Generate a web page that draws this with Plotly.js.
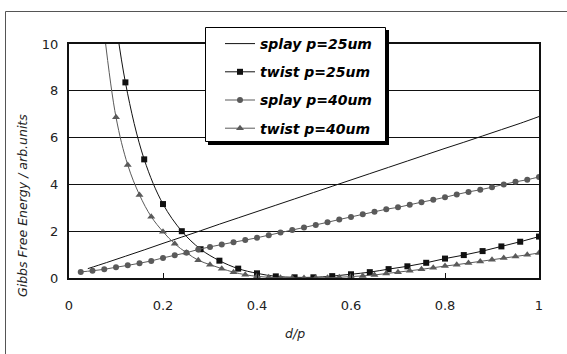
<!DOCTYPE html>
<html><head><meta charset="utf-8">
<script src="https://cdn.plot.ly/plotly-3.0.1.min.js"></script>
<style>html,body{margin:0;padding:0;background:#fff;}#chart{width:567px;height:354px;}</style>
</head><body><div id="chart"></div>
<script>
// ---- data ----
const seriesNames = ['splay p=25um', 'twist p=25um', 'splay p=40um', 'twist p=40um'];

const xSplay25 = [0.04,0.08,0.12,0.16,0.20,0.24,0.28,0.32,0.36,0.40,0.44,0.48,0.52,0.56,0.60,0.64,0.68,0.72,0.76,0.80,0.84,0.88,0.92,0.96,1.00];
const ySplay25 = [0.40,0.66,0.93,1.20,1.48,1.75,2.02,2.30,2.57,2.84,3.11,3.38,3.65,3.92,4.19,4.46,4.73,5.00,5.27,5.54,5.80,6.07,6.34,6.61,6.90];

const xTwist25 = [0.08,0.12,0.16,0.20,0.24,0.28,0.32,0.36,0.40,0.44,0.48,0.52,0.56,0.60,0.64,0.68,0.72,0.76,0.80,0.84,0.88,0.92,0.96,1.00];
const yTwist25 = [14.0,8.36,5.07,3.16,2.00,1.23,0.74,0.40,0.20,0.07,0.03,0.03,0.08,0.16,0.25,0.38,0.50,0.65,0.83,0.98,1.15,1.35,1.55,1.77];

const xSplay40 = [0.025,0.05,0.075,0.1,0.125,0.15,0.175,0.2,0.225,0.25,0.275,0.3,0.325,0.35,0.375,0.4,0.425,0.45,0.475,0.5,0.525,0.55,0.575,0.6,0.625,0.65,0.675,0.7,0.725,0.75,0.775,0.8,0.825,0.85,0.875,0.9,0.925,0.95,0.975,1.0];
const ySplay40 = [0.26,0.31,0.37,0.46,0.54,0.63,0.73,0.86,0.97,1.08,1.22,1.33,1.43,1.53,1.62,1.72,1.83,1.94,2.05,2.16,2.27,2.38,2.50,2.61,2.72,2.83,2.94,3.02,3.13,3.24,3.34,3.45,3.57,3.68,3.77,3.88,4.00,4.11,4.20,4.32];

const xTwist40 = [0.075,0.1,0.125,0.15,0.175,0.2,0.225,0.25,0.275,0.3,0.325,0.35,0.375,0.4,0.425,0.45,0.475,0.5,0.525,0.55,0.575,0.6,0.625,0.65,0.675,0.7,0.725,0.75,0.775,0.8,0.825,0.85,0.875,0.9,0.925,0.95,0.975,1.0];
const yTwist40 = [10.5,6.87,4.83,3.55,2.62,1.98,1.46,1.08,0.76,0.57,0.40,0.25,0.14,0.07,0.03,0.01,0.0,0.0,0.0,0.01,0.03,0.06,0.09,0.13,0.19,0.25,0.31,0.37,0.44,0.51,0.57,0.64,0.71,0.78,0.85,0.92,0.99,1.07];

const xTickVals = [0,0.2,0.4,0.6,0.8,1];
const yTickVals = [0,2,4,6,8,10];
const xTitle = 'd/p';
const yTitle = 'Gibbs Free Energy / arb.units';

// ---- layout geometry ----
const W = 567, H = 354, ML = 69, MR = 28, MT = 44, MB = 76;
const PW = W - ML - MR, PH = H - MT - MB;
const px = v => (v - ML) / PW;
const py = v => (H - MB - v) / PH;

const BLACK = '#111111', GREY = '#5a5a5a';

const traces = [
  {x: xSplay25, y: ySplay25, name: seriesNames[0], legendgroup: 'a', mode: 'lines',
   line: {color: BLACK, width: 1, shape: 'spline'}},
  {x: xTwist25, y: yTwist25, name: seriesNames[1], legendgroup: 'b', mode: 'lines+markers',
   line: {color: BLACK, width: 1, shape: 'spline'}, marker: {symbol: 'square', size: 6, color: BLACK}},
  {x: xSplay40, y: ySplay40, name: seriesNames[2], legendgroup: 'c', mode: 'lines+markers',
   line: {color: GREY, width: 1, shape: 'spline'}, marker: {symbol: 'circle', size: 6, color: GREY}},
  {x: xTwist40, y: yTwist40, name: seriesNames[3], legendgroup: 'd', mode: 'lines+markers',
   line: {color: GREY, width: 1, shape: 'spline'}, marker: {symbol: 'triangle-up', size: 7, color: GREY}}
];

const layout = {
  width: W, height: H,
  margin: {l: ML, r: MR, t: MT, b: MB, pad: 0},
  paper_bgcolor: '#ffffff', plot_bgcolor: '#ffffff',
  showlegend: true,
  font: {family: 'DejaVu Sans', color: '#222'},
  xaxis: {
    range: [0, 1], tickvals: xTickVals, ticks: 'inside', ticklen: 5, tickwidth: 1, tickcolor: BLACK,
    showgrid: false, zeroline: false, showline: true, linewidth: 2, linecolor: BLACK, mirror: true,
    tickfont: {family: 'DejaVu Sans', size: 13, color: '#222'}, ticklabelstandoff: 14
  },
  yaxis: {
    range: [0, 10], tickvals: yTickVals, ticks: '', showgrid: true, gridcolor: BLACK, gridwidth: 1,
    zeroline: false, showline: true, linewidth: 2, linecolor: BLACK, mirror: true,
    tickfont: {family: 'DejaVu Sans', size: 13, color: '#222'}, ticklabelstandoff: 6
  },
  legend: {
    x: px(220), y: py(28), xanchor: 'left', yanchor: 'top',
    bgcolor: 'rgba(0,0,0,0)', borderwidth: 0, tracegroupgap: 7,
    font: {family: 'DejaVu Sans', size: 14, weight: 'bold', style: 'italic', color: '#000'}
  },
  shapes: [
    {type: 'rect', xref: 'paper', yref: 'paper', x0: px(5.5), x1: px(620), y0: py(11.5), y1: py(400),
     line: {color: '#555', width: 1}, fillcolor: 'rgba(0,0,0,0)', layer: 'below'},
    {type: 'rect', xref: 'paper', yref: 'paper', x0: px(208), x1: px(389), y0: py(30), y1: py(145),
     line: {width: 0}, fillcolor: '#000', layer: 'above'},
    {type: 'rect', xref: 'paper', yref: 'paper', x0: px(205.5), x1: px(385.5), y0: py(27.5), y1: py(141.5),
     line: {color: '#000', width: 1}, fillcolor: '#fff', layer: 'above'}
  ],
  annotations: [
    {text: yTitle, xref: 'paper', yref: 'paper', x: px(22), y: py(206), xanchor: 'center', yanchor: 'middle',
     textangle: -90, showarrow: false, font: {family: 'DejaVu Sans', size: 12.5, style: 'italic', color: '#222'}},
    {text: xTitle, xref: 'paper', yref: 'paper', x: px(295), y: py(333), xanchor: 'center', yanchor: 'middle',
     showarrow: false, font: {family: 'DejaVu Sans', size: 12.5, style: 'italic', color: '#222'}}
  ]
};

Plotly.newPlot('chart', traces, layout, {staticPlot: true, displayModeBar: false});
</script>
</body></html>
